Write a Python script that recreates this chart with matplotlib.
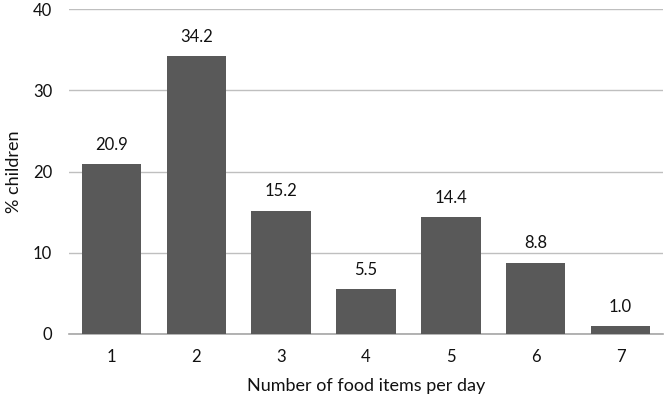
import numpy as np
import matplotlib.pyplot as plt

plt.rcParams['font.family'] = ['Lato', 'DejaVu Sans']

categories = ['1', '2', '3', '4', '5', '6', '7']
values = [20.9, 34.2, 15.2, 5.5, 14.4, 8.8, 1.0]

fig = plt.figure(figsize=(6.66, 4.0), dpi=100)
ax = fig.add_axes([69/666, 1 - 334/400, (663-69)/666, (334-9)/400])

x = np.arange(len(categories))
bars = ax.bar(x, values, width=0.7, color='#595959', zorder=3)
for xi, v in zip(x, values):
    ax.text(xi, v + 1.4, f'{v:.1f}', ha='center', va='bottom', fontsize=12,
            color='#111111')

ax.set_xlim(-0.5, len(categories) - 0.5)
ax.set_ylim(0, 40)
ax.set_yticks([0, 10, 20, 30, 40])
ax.set_xticks(x)
ax.set_xticklabels(categories)
ax.grid(axis='y', color='#bfbfbf', lw=1, zorder=0)
for s in ['top', 'right', 'left']:
    ax.spines[s].set_visible(False)
ax.spines['bottom'].set_color('#a6a6a6')
ax.spines['bottom'].set_linewidth(1.2)
ax.tick_params(axis='both', length=0, labelsize=12, labelcolor='#111111')
ax.tick_params(axis='x', pad=11)
ax.tick_params(axis='y', pad=12)

ax.set_xlabel('Number of food items per day', fontsize=13, labelpad=9, color='#111111')
ax.set_ylabel('% children', fontsize=13, labelpad=8, color='#111111')

fig.savefig('out.png', dpi=100)
